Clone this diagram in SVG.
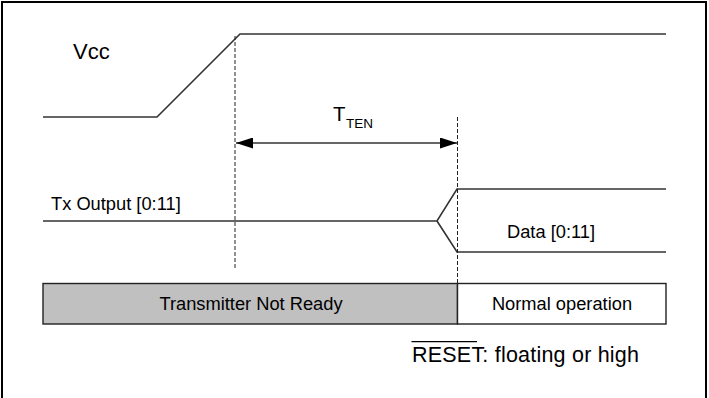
<svg xmlns="http://www.w3.org/2000/svg" width="709" height="398" viewBox="0 0 709 398">
<style>
text{font-family:"Liberation Sans",Arial,sans-serif;fill:#000}
.sig{fill:none;stroke:#333;stroke-width:1.6}
.dash{fill:none;stroke:#222;stroke-width:1;stroke-dasharray:4,2}
.box{stroke:#222;stroke-width:1.4}
</style>
<defs>
<marker id="ah" markerWidth="17" markerHeight="11" refX="17" refY="5.5" orient="auto-start-reverse" markerUnits="userSpaceOnUse">
<path d="M0,0 L17,5.5 L0,11 Z" fill="#000"/>
</marker>
</defs>
<rect x="2" y="2" width="704" height="400" fill="#fff" stroke="#000" stroke-width="2"/>
<g id="vcc">
<polyline class="sig" points="43,117 157,117 240,34 666,34"/>
<text x="73" y="59" font-size="22">Vcc</text>
</g>
<g id="tx">
<polyline class="sig" points="43,221 437,221 457,189 666,189"/>
<polyline class="sig" points="437,221 457,252 666,252"/>
<text x="51" y="210" font-size="18.3">Tx Output [0:11]</text>
<text x="507" y="238" font-size="18.3">Data [0:11]</text>
</g>
<g id="connectors">
<line class="dash" x1="235" y1="36" x2="235" y2="270"/>
<line class="dash" x1="457.5" y1="117" x2="457.5" y2="284"/>
<line x1="236" y1="143" x2="457" y2="143" stroke="#333" stroke-width="1.6" marker-start="url(#ah)" marker-end="url(#ah)"/>
</g>
<g id="tten">
<text x="333" y="121" font-size="20.5">T</text>
<text x="346" y="128" font-size="13.5">TEN</text>
</g>
<g id="notready">
<rect class="box" x="43" y="283.5" width="414.5" height="40.5" fill="#c0c0c0"/>
<text x="251" y="309.5" font-size="18.3" text-anchor="middle">Transmitter Not Ready</text>
</g>
<g id="normal">
<rect class="box" x="457.5" y="283.5" width="208.5" height="40.5" fill="#fff"/>
<text x="562" y="309.5" font-size="18.3" text-anchor="middle">Normal operation</text>
</g>
<g id="reset">
<text x="412" y="362" font-size="21.5" textLength="227">RESET: floating or high</text>
<line x1="411.5" y1="341.7" x2="477" y2="341.7" stroke="#000" stroke-width="1.2"/>
</g>
</svg>
